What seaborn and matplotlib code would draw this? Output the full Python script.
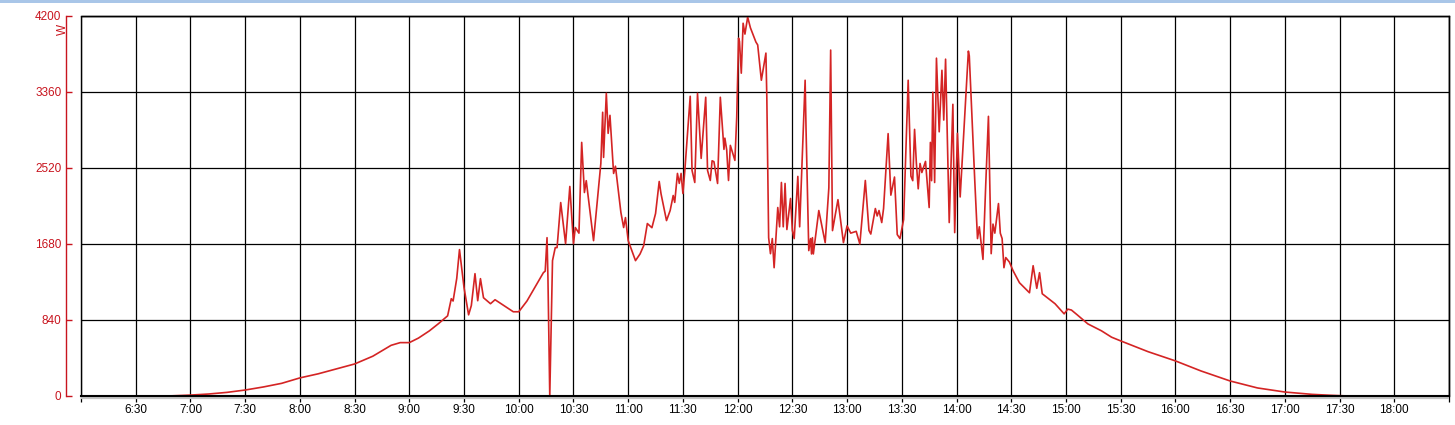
import pandas as pd
import numpy as np
import matplotlib
matplotlib.use('Agg')
import matplotlib.pyplot as plt
import seaborn as sns
from matplotlib.patches import Rectangle

# Leistung (W) ueber den Tag
times = [
    "06:40", "06:50", "07:00", "07:10", "07:20", "07:30", "07:40", "07:50",
    "08:00", "08:10", "08:20", "08:30", "08:40", "08:45", "08:50", "08:55",
    "09:00", "09:05", "09:11", "09:16", "09:21", "09:23", "09:24", "09:26",
    "09:27:30", "09:30", "09:32:30", "09:34", "09:36", "09:37:30", "09:39", "09:40:40",
    "09:44:30", "09:47", "09:52", "09:57", "10:00", "10:04:30", "10:10", "10:13:30",
    "10:14:30", "10:15:30", "10:16", "10:17", "10:18:30", "10:20", "10:21", "10:23",
    "10:25:40", "10:28", "10:30", "10:31", "10:33", "10:34:30", "10:36", "10:37",
    "10:41", "10:45", "10:46", "10:46:30", "10:48", "10:49", "10:50", "10:52",
    "10:53", "10:56", "10:57:30", "10:58:30", "11:00", "11:04", "11:06:30", "11:08:30",
    "11:10:30", "11:13", "11:15", "11:17", "11:18", "11:21", "11:23", "11:24:40",
    "11:25:30", "11:27", "11:28", "11:29", "11:30", "11:31", "11:34", "11:35",
    "11:36:30", "11:38", "11:40", "11:42:30", "11:43:30", "11:45", "11:46", "11:47",
    "11:49", "11:50:30", "11:52:30", "11:53", "11:54", "11:55", "11:56", "11:58:30",
    "11:59:30", "12:00:30", "12:01", "12:02", "12:03", "12:04", "12:05:30", "12:07",
    "12:10", "12:11", "12:13", "12:15:30", "12:16", "12:17", "12:18", "12:19",
    "12:20", "12:22", "12:23", "12:24", "12:25", "12:26", "12:27", "12:29",
    "12:30", "12:31", "12:33", "12:34", "12:37", "12:37:30", "12:39", "12:40",
    "12:40:30", "12:41", "12:41:30", "12:44:30", "12:48", "12:50", "12:51", "12:52",
    "12:55", "12:58", "13:00", "13:02", "13:05", "13:07", "13:10", "13:12",
    "13:13", "13:15:30", "13:16:30", "13:17:30", "13:19", "13:20", "13:22:30", "13:24",
    "13:26", "13:27:30", "13:29", "13:31", "13:33:30", "13:35", "13:36", "13:37",
    "13:38", "13:39", "13:40", "13:41", "13:43", "13:45", "13:45:40", "13:46:20",
    "13:47", "13:48", "13:49", "13:50:30", "13:52", "13:53", "13:54", "13:56",
    "13:58", "13:59", "14:00:30", "14:02", "14:06:30", "14:07", "14:10", "14:11:30",
    "14:12:30", "14:14:30", "14:16", "14:17:30", "14:19", "14:20", "14:21", "14:23",
    "14:24", "14:25", "14:26", "14:27", "14:29", "14:31", "14:34:30", "14:40",
    "14:42", "14:44", "14:45:30", "14:47", "14:54", "14:59", "15:01", "15:03",
    "15:06", "15:12", "15:19:30", "15:25", "15:30", "15:37", "15:45", "16:00",
    "16:14", "16:30", "16:45", "17:00", "17:15", "17:25", "17:35",
]
watts = [
    0, 2, 10, 22, 40, 66, 100, 140,
    200, 245, 300, 354, 440, 500, 560, 590,
    590, 640, 720, 800, 886, 1075, 1050, 1300,
    1618, 1197, 897, 1000, 1352, 1053, 1297, 1086,
    1020, 1064, 997, 931, 931, 1050, 1240, 1363,
    1380, 1750, 1307, 0, 1496, 1640, 1640, 2138,
    1684, 2316, 1684, 1862, 1800, 2803, 2249, 2380,
    1717, 2570, 3136, 2637, 3346, 2903, 3102, 2460,
    2540, 2028, 1862, 1972, 1717, 1496, 1570, 1662,
    1906, 1860, 2017, 2371, 2235, 1939, 2050, 2216,
    2140, 2460, 2350, 2460, 2238, 2480, 3313, 2493,
    2360, 3346, 2626, 3302, 2493, 2382, 2600, 2590,
    2349, 3302, 2726, 2850, 2720, 2382, 2770, 2604,
    3080, 3955, 3920, 3568, 4120, 4000, 4188, 4070,
    3913, 3880, 3490, 3790, 3300, 1750, 1573, 1740,
    1418, 2083, 1870, 2360, 1870, 2349, 1840, 2183,
    1830, 1740, 2427, 1870, 3490, 2950, 1607, 1740,
    1570, 1750, 1570, 2050, 1695, 2300, 3823, 1828,
    2170, 1695, 1880, 1800, 1820, 1680, 2382, 1830,
    1790, 2072, 1990, 2050, 1917, 2072, 2900, 2220,
    2420, 1784, 1740, 1950, 3490, 2430, 2380, 2947,
    2570, 2290, 2570, 2470, 2593, 2083, 2803, 2380,
    3357, 2360, 3734, 2920, 3600, 3050, 3723, 1917,
    3224, 1806, 2903, 2200, 3812, 3760, 2382, 1740,
    1870, 1510, 2327, 3091, 1573, 1900, 1800, 2127,
    1800, 1740, 1418, 1530, 1480, 1385, 1252, 1141,
    1440, 1190, 1363, 1130, 1020, 908, 960, 950,
    900, 797, 720, 650, 609, 554, 490, 388,
    277, 166, 89, 44, 18, 8, 0,
]

x_ticks = ["6:00", "6:30", "7:00", "7:30", "8:00", "8:30", "9:00", "9:30", "10:00",
           "10:30", "11:00", "11:30", "12:00", "12:30", "13:00", "13:30", "14:00",
           "14:30", "15:00", "15:30", "16:00", "16:30", "17:00", "17:30", "18:00", "18:30"]
y_ticks = [0, 840, 1680, 2520, 3360, 4200]


def to_hours(s):
    parts = [float(p) for p in s.split(":")]
    while len(parts) < 3:
        parts.append(0.0)
    return parts[0] + parts[1] / 60 + parts[2] / 3600


df = pd.DataFrame({"hour": [to_hours(t) for t in times], "watts": watts})
tick_pos = [to_hours(t) for t in x_ticks]
tick_lab = [""] + x_ticks[1:-1] + [""]

sns.set_style("white")
plt.rcParams["font.family"] = ["Liberation Sans", "DejaVu Sans"]

red = "#c8141e"
fig = plt.figure(figsize=(14.55, 4.25), dpi=100)
ax = fig.add_axes([81 / 1455, 1 - 396 / 425, (1449 - 81) / 1455, (396 - 16) / 425])

sns.lineplot(data=df, x="hour", y="watts", ax=ax, color="#d42424", lw=1.2,
             estimator=None, sort=False)

ax.set_xlim(6, 18.5)
ax.set_ylim(0, 4200)
ax.set_xticks(tick_pos)
ax.set_xticklabels(tick_lab)
ax.set_yticks(y_ticks)
ax.set_xlabel("")
ax.set_ylabel("")

ax.grid(True, color="black", lw=0.9)
ax.set_axisbelow(True)

# rote y-Achse etwas nach aussen geschoben
ax.spines["left"].set_position(("outward", 11))
ax.spines["left"].set_color(red)
ax.spines["left"].set_linewidth(1.0)
for s in ["top", "right", "bottom"]:
    ax.spines[s].set_color("black")
    ax.spines[s].set_linewidth(1.0)
ax.spines["bottom"].set_linewidth(1.5)

ax.tick_params(axis="y", direction="in", length=4.5, width=1.0, color=red,
               labelcolor=red, labelsize=8.5, pad=3, left=True)
ax.tick_params(axis="x", direction="out", length=4, width=0.9, color="black",
               labelcolor="black", labelsize=8.5, pad=2, bottom=True)

# schwarzer Rahmen links und Schatten unten
ax.add_patch(Rectangle((0, 0), 1, 1, transform=ax.transAxes, fill=False,
                       edgecolor="black", lw=1.0, clip_on=False))
ax.plot([0, 1], [-0.006, -0.006], transform=ax.transAxes, color="#c4c4c4",
        lw=1.6, clip_on=False, solid_capstyle="butt")

fig.text(63 / 1455, 1 - 29 / 425, "W", rotation=90, ha="center", va="center",
         color=red, fontsize=8.5)

# hellblauer Fensterrand oben
fig.patches.append(Rectangle((0, 1 - 3 / 425), 1, 3 / 425, transform=fig.transFigure,
                             facecolor="#a9c6e8", edgecolor="none"))

fig.savefig("out.png", dpi=100)
